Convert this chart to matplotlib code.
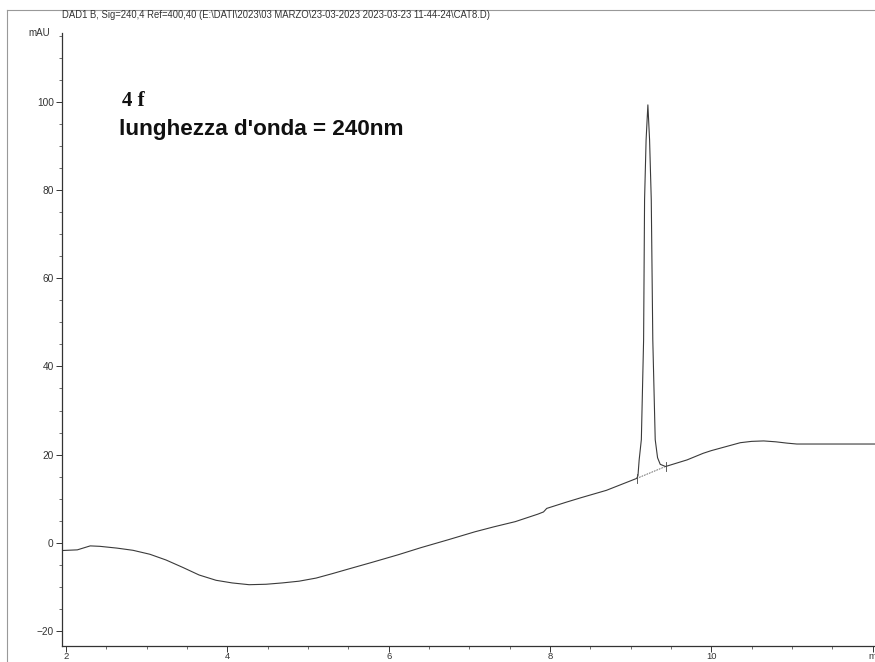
import matplotlib
matplotlib.use("Agg")
import matplotlib.pyplot as plt
from matplotlib.ticker import MultipleLocator, FixedLocator
from matplotlib.lines import Line2D

# ---- data ----
time_min = [1.95, 2.14, 2.30, 2.42, 2.63, 2.83, 3.04, 3.24, 3.45, 3.65, 3.86,
            4.06, 4.27, 4.48, 4.68, 4.89, 5.10, 5.30, 5.51, 5.80, 6.12, 6.40,
            6.74, 7.07, 7.30, 7.57, 7.85, 7.92, 7.96, 8.20, 8.38, 8.70, 9.075,
            9.091, 9.106, 9.133, 9.161, 9.173, 9.192, 9.214, 9.235, 9.256,
            9.275, 9.305, 9.334, 9.367, 9.433, 9.70, 9.90, 10.00, 10.18, 10.36,
            10.50, 10.65, 10.80, 10.94, 11.06, 11.50, 12.03]
signal_mau = [-1.75, -1.6, -0.7, -0.8, -1.2, -1.7, -2.6, -3.9, -5.6, -7.3, -8.5,
              -9.1, -9.5, -9.4, -9.1, -8.7, -8.0, -7.0, -5.9, -4.4, -2.7, -1.1,
              0.7, 2.5, 3.6, 4.8, 6.5, 7.0, 7.8, 9.2, 10.2, 11.9, 14.6,
              15.2, 18.8, 23.4, 46.0, 77.8, 91.4, 99.3, 91.4, 77.8,
              46.0, 23.4, 19.3, 17.8, 17.3, 18.8, 20.3, 20.9, 21.8, 22.7,
              23.0, 23.1, 22.9, 22.6, 22.4, 22.4, 22.4]

# integration baseline under the peak (start / end)
base_t = [9.075, 9.433]
base_v = [14.6, 17.3]

x_ticks = [2, 4, 6, 8, 10, 12]
x_tick_labels = ["2", "4", "6", "8", "10", "m"]
y_ticks = [-20, 0, 20, 40, 60, 80, 100]

title_text = r"DAD1 B, Sig=240,4 Ref=400,40 (E:\DATI\2023\03 MARZO\23-03-2023 2023-03-23 11-44-24\CAT8.D)"

W, H = 875, 662
fig = plt.figure(figsize=(W / 100, H / 100), dpi=100)
fig.patch.set_facecolor("white")

ax = fig.add_axes([62 / W, 1 - 646 / H, 1 - 62 / W, (646 - 33) / H])
ax.set_facecolor("white")

ax.plot(time_min, signal_mau, color="#3a3a3a", lw=0.8, solid_joinstyle="round")
ax.plot(base_t, base_v, color="#555555", lw=0.6, ls=(0, (2, 1.2)))
# small tick marks at integration start / end
for t, v in zip(base_t, base_v):
    ax.plot([t, t], [v - 1.0, v + 1.0], color="#444444", lw=0.6)

ax.set_xlim(1.95, 12.03)
ax.set_ylim(-23.4, 115.6)

for s in ["top", "right"]:
    ax.spines[s].set_visible(False)
for s in ["left", "bottom"]:
    ax.spines[s].set_color("#333333")
    ax.spines[s].set_linewidth(0.9)

ax.xaxis.set_major_locator(FixedLocator(x_ticks))
ax.set_xticklabels(x_tick_labels)
ax.xaxis.set_minor_locator(MultipleLocator(0.5))
ax.yaxis.set_major_locator(FixedLocator(y_ticks))
ax.yaxis.set_minor_locator(MultipleLocator(5))

ax.tick_params(axis="both", which="major", direction="out", length=4, width=0.7,
               color="#333333", labelcolor="#333333",
               labelfontfamily="Liberation Sans")
ax.tick_params(axis="y", which="major", labelsize=7.3, pad=2)
ax.tick_params(axis="x", which="major", labelsize=6.8, pad=0.5)
ax.tick_params(axis="both", which="minor", direction="out", length=2.5, width=0.6,
               color="#555555")

# unit label at top of y axis
fig.text(50 / W, 1 - 33 / H, "mAU", ha="right", va="center", fontsize=7,
         color="#333333", family="Liberation Sans")

# header
fig.text(62 / W, 1 - 15 / H, title_text, ha="left", va="center", fontsize=6.85,
         color="#333333", family="Liberation Sans")

# annotations
fig.text(122 / W, 1 - 101 / H, "4 f", ha="left", va="center", fontsize=15,
         fontweight="bold", color="#111111", family="Liberation Serif")
fig.text(119 / W, 1 - 129 / H, "lunghezza d'onda = 240nm", ha="left", va="center",
         fontsize=16.2, fontweight="bold", color="#111111", family="Liberation Sans")

# grey outer frame (left and top)
fig.add_artist(Line2D([7 / W, 7 / W], [0, 1 - 10 / H], transform=fig.transFigure,
                      color="#999999", lw=0.8))
fig.add_artist(Line2D([7 / W, 1], [1 - 10 / H, 1 - 10 / H], transform=fig.transFigure,
                      color="#999999", lw=0.8))

fig.savefig("out.png", dpi=100)
